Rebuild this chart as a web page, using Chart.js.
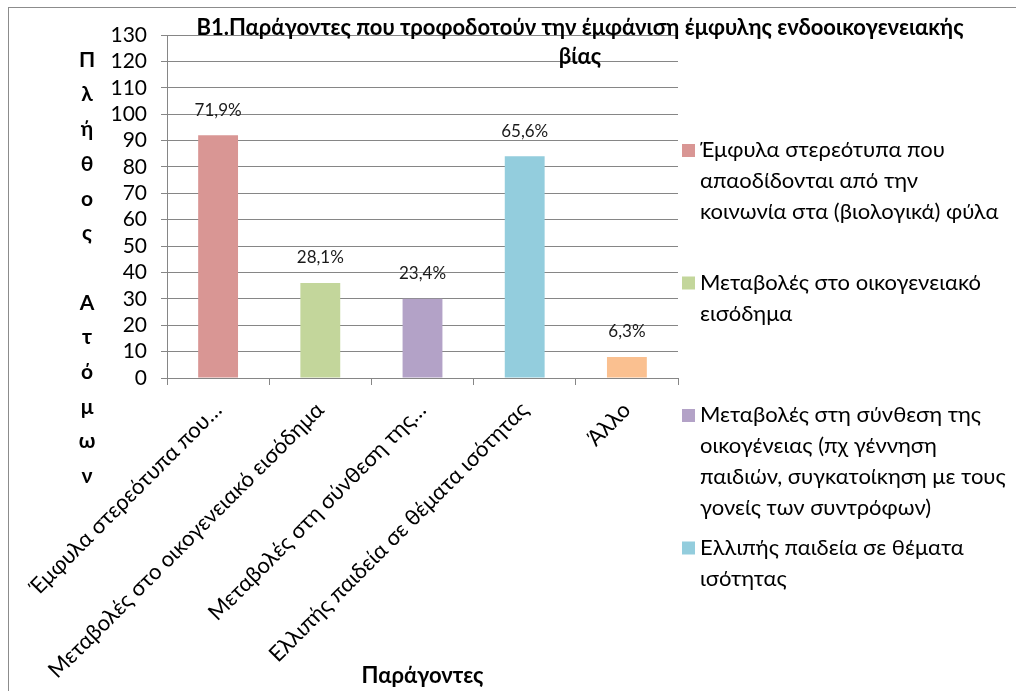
<!DOCTYPE html>
<html lang="el">
<head>
<meta charset="utf-8">
<title>B1. Παράγοντες</title>
<script src="https://cdn.jsdelivr.net/npm/chart.js@4.4.1/dist/chart.umd.min.js"></script>
<style>
    html, body { margin: 0; padding: 0; background: #fff; }
    #chartDiv { position: relative; width: 1016px; height: 691px; }
</style>
</head>
<body>
<div id="chartDiv"><canvas id="factorChart" width="1016" height="691"></canvas></div>
<script>
"use strict";

// tick labels as shown under the x axis (Excel truncated two of them)
const tickLabels = [
    "Έμφυλα στερεότυπα που…",
    "Μεταβολές στο οικογενειακό εισόδημα",
    "Μεταβολές στη σύνθεση της…",
    "Ελλιπής παιδεία σε θέματα ισότητας",
    "Άλλο"
];
// full category names, split the way the legend wraps them
const legendLines = [
    ["Έμφυλα στερεότυπα που", "απαοδίδονται από την", "κοινωνία στα (βιολογικά) φύλα"],
    ["Μεταβολές στο οικογενειακό", "εισόδημα"],
    ["Μεταβολές στη σύνθεση της", "οικογένειας (πχ γέννηση", "παιδιών, συγκατοίκηση με τους", "γονείς των συντρόφων)"],
    ["Ελλιπής παιδεία σε θέματα", "ισότητας"],
    ["Άλλο"]
];
const counts = [92, 36, 30, 84, 8];
const percentLabels = ["71,9%", "28,1%", "23,4%", "65,6%", "6,3%"];
const barColors = ["#D99694", "#C3D69B", "#B3A2C7", "#93CDDD", "#FAC090"];
const yTicks = { min: 0, max: 130, step: 10 };
const titleLines = ["B1.Παράγοντες που τροφοδοτούν την έμφάνιση έμφυλης ενδοοικογενειακής", "βίας"];
const yTitleChars = ["Π", "λ", "ή", "θ", "ο", "ς", "", "Α", "τ", "ό", "μ", "ω", "ν"];
const xTitle = "Παράγοντες";

const FONT = "Lato, 'Open Sans', 'Noto Sans', sans-serif";
const GRID = "#868686";

//frame, title, stacked y title, value labels and the wrapped legend
const decorPlugin = {
    id: 'decor',
    beforeDraw(chart) {
        const ctx = chart.ctx;
        ctx.save();
        ctx.fillStyle = "#fff";
        ctx.fillRect(0, 0, chart.width, chart.height);
        ctx.strokeStyle = "#8c8c8c";
        ctx.lineWidth = 1;
        ctx.strokeRect(8.5, 7.5, chart.width + 20, chart.height + 20);
        ctx.restore();
    },
    afterDraw(chart) {
        const ctx = chart.ctx;
        ctx.save();
        ctx.fillStyle = "#000";
        ctx.textAlign = "center";
        ctx.textBaseline = "middle";

        //chart title
        ctx.font = "bold 22px " + FONT;
        titleLines.forEach((line, i) => ctx.fillText(line, 580, 28 + i * 29, 782));

        //y axis title, one letter per line
        ctx.font = "bold 21px " + FONT;
        yTitleChars.forEach((ch, i) => ctx.fillText(ch, 87, 60 + i * 34.7));

        //percentage labels above the bars
        ctx.font = "17px " + FONT;
        ctx.fillStyle = "#1a1a1a";
        const meta = chart.getDatasetMeta(0);
        meta.data.forEach((bar, i) => ctx.fillText(percentLabels[i], bar.x, bar.y - 25));

        //legend on the right, one slot per category
        ctx.textAlign = "left";
        ctx.font = "22px " + FONT;
        const slot = 132.5;
        legendLines.forEach((lines, i) => {
            const top = 150 + i * slot;
            if (top + slot > chart.height + 10) return;
            ctx.fillStyle = barColors[i];
            ctx.fillRect(682, top - 6, 13, 13);
            ctx.fillStyle = "#000";
            lines.forEach((line, j) => ctx.fillText(line, 700, top + j * 31, 312));
        });
        ctx.restore();
    }
};

const ctx = document.getElementById('factorChart').getContext('2d');
const factorChart = new Chart(ctx, {
    type: 'bar',
    data: {
        labels: tickLabels,
        datasets: [
            {
                label: 'Πλήθος Ατόμων',
                data: counts,
                backgroundColor: barColors,
                borderWidth: 0,
                barPercentage: 0.39,
                categoryPercentage: 1
            }
        ]
    },
    options: {
        responsive: false,
        animation: false,
        devicePixelRatio: 1,
        layout: {
            padding: { top: 35, right: 338, left: 0, bottom: 0 }
        },
        plugins: {
            legend: { display: false },
            title: { display: false },
            tooltip: { enabled: false }
        },
        scales: {
            x: {
                grid: {
                    display: true,
                    drawOnChartArea: false,
                    drawTicks: true,
                    tickLength: 7,
                    color: GRID,
                    offset: true
                },
                border: { color: GRID },
                ticks: {
                    minRotation: 45,
                    maxRotation: 45,
                    autoSkip: false,
                    color: '#000',
                    padding: 12,
                    font: { family: FONT, size: 22 }
                },
                title: {
                    display: true,
                    text: xTitle,
                    color: '#000',
                    font: { family: FONT, size: 22, weight: 'bold' },
                    padding: { top: 0, bottom: 2 }
                },
                afterFit: (scale) => { scale.height = 313; }
            },
            y: {
                min: yTicks.min,
                max: yTicks.max,
                grid: { color: GRID, tickLength: 6 },
                border: { color: GRID },
                ticks: {
                    stepSize: yTicks.step,
                    autoSkip: false,
                    color: '#000',
                    padding: 14,
                    font: { family: FONT, size: 21 }
                },
                afterFit: (scale) => { scale.width = 167; }
            }
        }
    },
    plugins: [decorPlugin]
});
</script>
</body>
</html>
